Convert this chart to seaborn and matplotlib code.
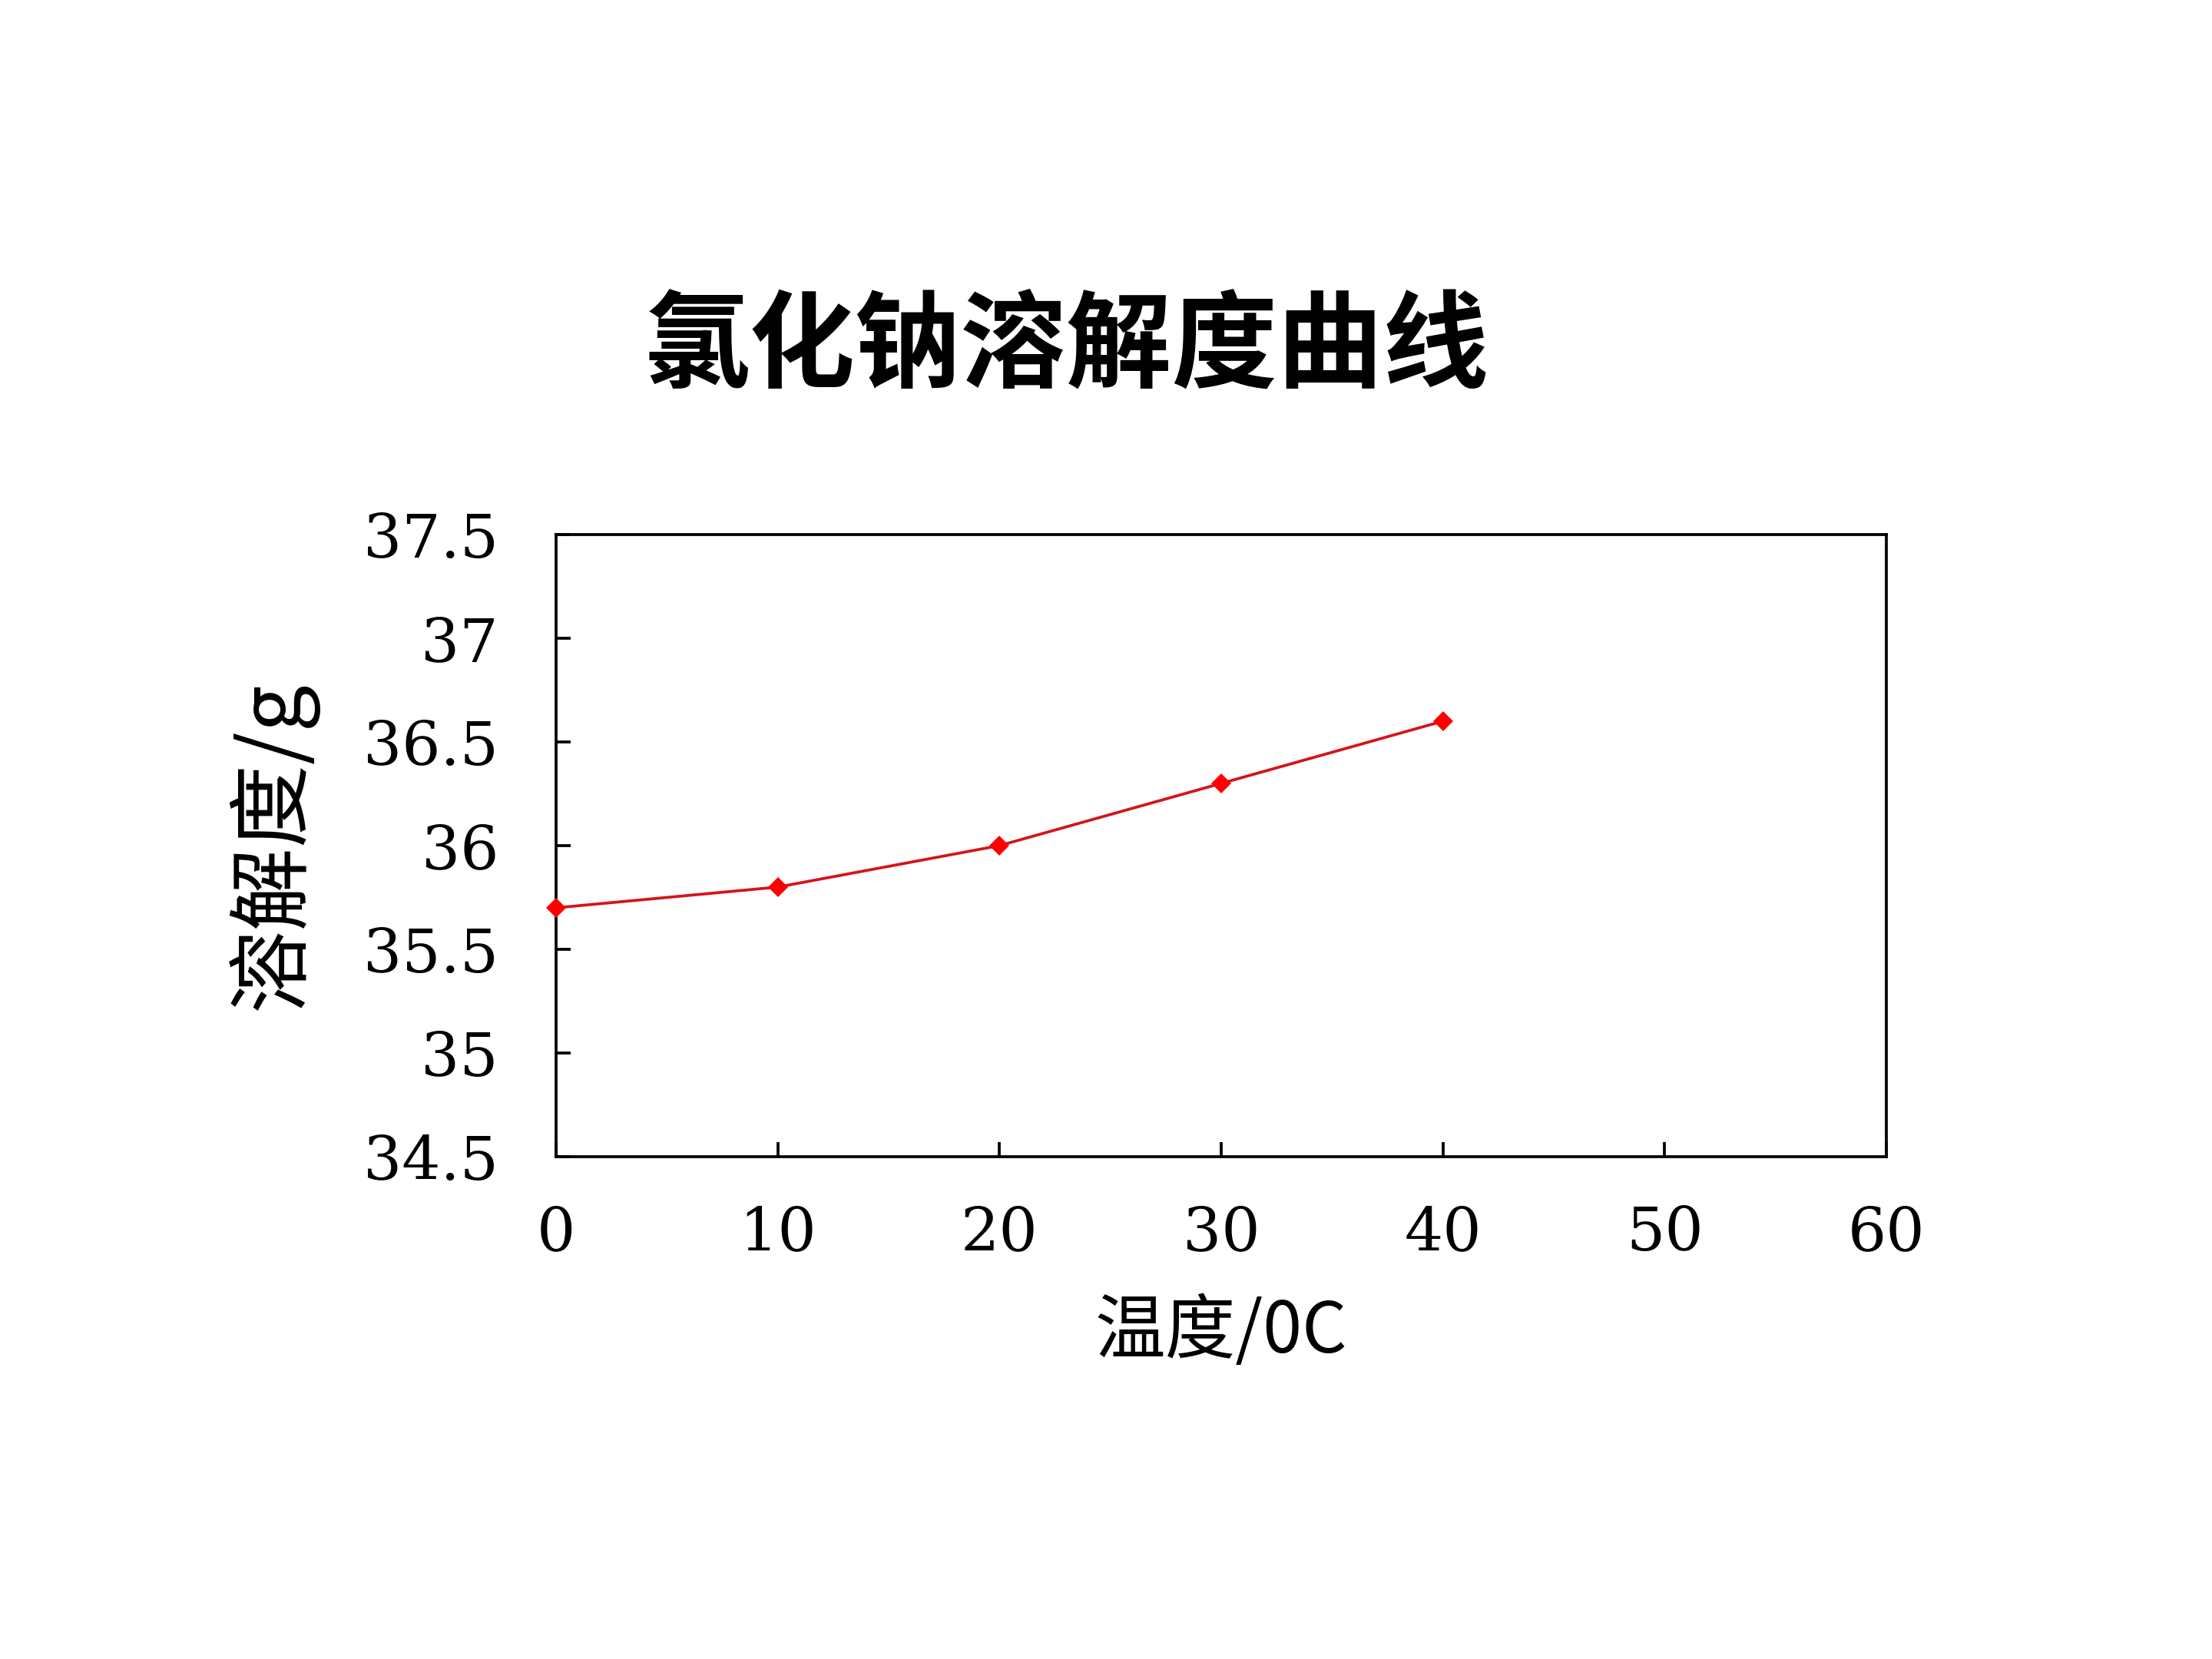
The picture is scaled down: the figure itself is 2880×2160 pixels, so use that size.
import matplotlib
matplotlib.use('Agg')
import matplotlib.pyplot as plt
import seaborn as sns
import pandas as pd
from matplotlib.ticker import FuncFormatter, MultipleLocator

# Data
temperature = [0, 10, 20, 30, 40]
solubility = [35.7, 35.8, 36.0, 36.3, 36.6]

title_text = '氯化钠溶解度曲线'
x_label = '温度/0C'
y_label = '溶解度/g'

df = pd.DataFrame({'temp': temperature, 'sol': solubility})

sns.set_style('white')
plt.rcParams['font.family'] = ['Noto Sans CJK SC', 'DejaVu Sans']
plt.rcParams['text.color'] = 'black'
plt.rcParams['axes.labelcolor'] = 'black'
plt.rcParams['xtick.color'] = 'black'
plt.rcParams['ytick.color'] = 'black'

fig = plt.figure(figsize=(9.6, 7.2), dpi=300)
ax = fig.add_axes([0.2514, 0.3028, 0.6014, 0.375])

sns.lineplot(data=df, x='temp', y='sol', ax=ax, color='#d4141c', linewidth=0.9,
             marker='D', markersize=4.5, markerfacecolor='#ff0000',
             markeredgecolor='#ff0000', markeredgewidth=0)
for ln in ax.get_lines():
    ln.set_clip_on(False)
    ln.set_zorder(5)

ax.set_xlim(0, 60)
ax.set_ylim(34.5, 37.5)
ax.xaxis.set_major_locator(MultipleLocator(10))
ax.yaxis.set_major_locator(MultipleLocator(0.5))
ax.yaxis.set_major_formatter(FuncFormatter(lambda v, p: '%g' % v))

for s in ax.spines.values():
    s.set_linewidth(0.9)
    s.set_color('black')

ax.tick_params(axis='both', direction='in', length=4.5, width=0.9, color='black',
               bottom=True, left=True, top=False, right=False)
ax.tick_params(axis='y', pad=18)
ax.tick_params(axis='x', pad=15)
for lab in ax.get_xticklabels() + ax.get_yticklabels():
    lab.set_family(['DejaVu Serif'])
    lab.set_fontsize(19)

ax.set_xlabel(x_label, fontsize=22)
ax.set_ylabel(y_label, fontsize=26)
ax.xaxis.set_label_coords(0.5, -0.283)
ax.yaxis.set_label_coords(-0.2136, 0.5)
ax.xaxis.label.set_va('center')
ax.yaxis.label.set_va('center')

fig.text(0.482, 0.79, title_text, ha='center', va='center', fontsize=33,
         fontweight='bold')

fig.savefig('out.png', dpi=300, facecolor='white')
